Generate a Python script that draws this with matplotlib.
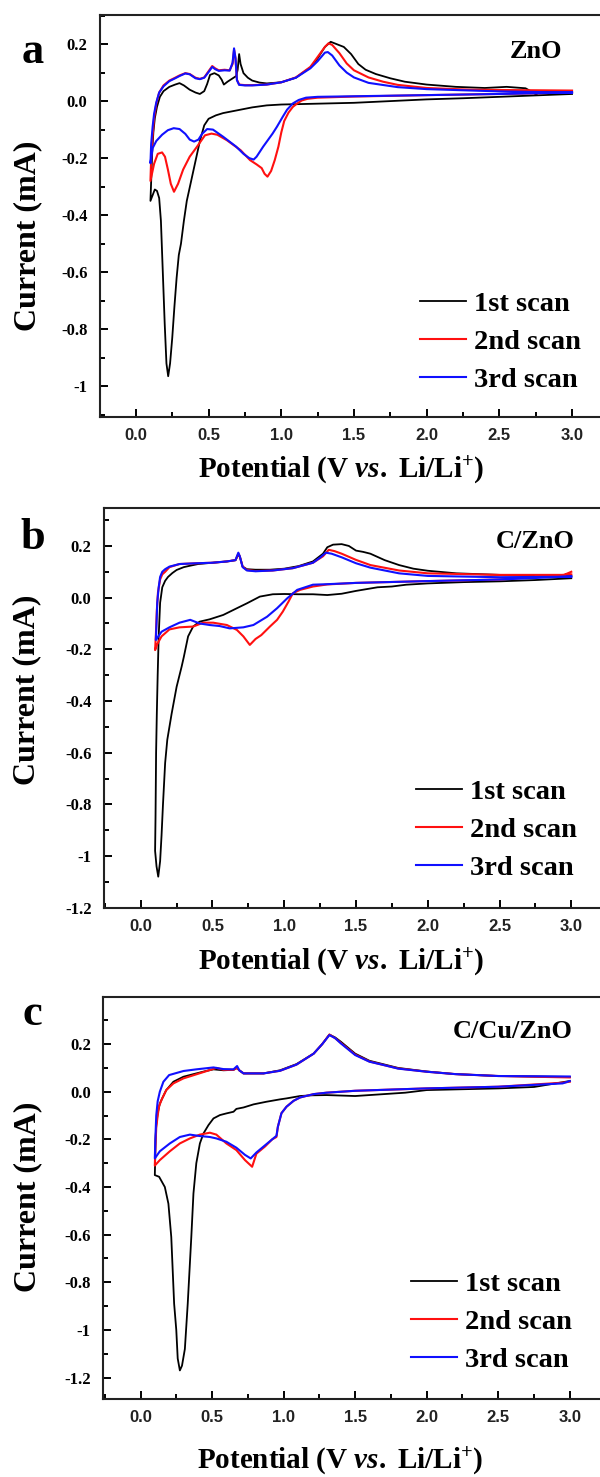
import numpy as np
import matplotlib
matplotlib.use("Agg")
import matplotlib.pyplot as plt
from matplotlib.ticker import MultipleLocator, FixedLocator, FixedFormatter

plt.rcParams['mathtext.fontset'] = 'custom'
plt.rcParams['mathtext.rm'] = 'Liberation Serif:bold'
plt.rcParams['mathtext.it'] = 'Liberation Serif:italic:bold'
plt.rcParams['mathtext.bf'] = 'Liberation Serif:bold'

# ---- data: (potential V, current mA), cathodic sweep then anodic sweep ----
zno_1 = [(3.0, 0.025), (2.75, 0.02), (2.5, 0.015), (2.25, 0.01), (2.0, 0.006), (1.75, 0.0),
         (1.5, -0.006), (1.25, -0.009), (1.0, -0.012), (0.9, -0.015), (0.8, -0.022), (0.7, -0.032),
         (0.6, -0.042), (0.55, -0.05), (0.5, -0.062), (0.47, -0.085), (0.44, -0.14), (0.41, -0.21),
         (0.38, -0.28), (0.35, -0.35), (0.33, -0.42), (0.31, -0.5), (0.295, -0.54), (0.28, -0.62),
         (0.265, -0.72), (0.25, -0.83), (0.235, -0.92), (0.222, -0.965), (0.21, -0.92), (0.198, -0.78),
         (0.185, -0.6), (0.172, -0.42), (0.16, -0.34), (0.145, -0.315), (0.13, -0.31), (0.115, -0.33),
         (0.10, -0.35),
         (0.105, -0.28), (0.112, -0.18), (0.12, -0.11), (0.13, -0.06), (0.145, -0.02), (0.165, 0.015),
         (0.19, 0.035), (0.23, 0.05), (0.27, 0.058), (0.30, 0.063), (0.33, 0.055), (0.37, 0.04),
         (0.41, 0.03), (0.44, 0.025), (0.47, 0.035), (0.49, 0.06), (0.51, 0.092), (0.54, 0.098),
         (0.57, 0.09), (0.59, 0.075), (0.605, 0.058), (0.63, 0.068), (0.66, 0.078), (0.69, 0.088),
         (0.70, 0.11), (0.71, 0.165), (0.72, 0.13), (0.74, 0.098), (0.77, 0.082), (0.8, 0.072),
         (0.85, 0.065), (0.9, 0.062), (1.0, 0.066), (1.1, 0.082), (1.2, 0.118), (1.25, 0.15),
         (1.3, 0.19), (1.34, 0.208), (1.38, 0.2), (1.43, 0.19), (1.48, 0.165), (1.53, 0.13),
         (1.58, 0.11), (1.65, 0.095), (1.75, 0.08), (1.85, 0.068), (2.0, 0.058), (2.2, 0.05),
         (2.4, 0.046), (2.55, 0.05), (2.68, 0.045), (2.75, 0.025), (2.8, 0.035), (3.0, 0.035)]
zno_2 = [(3.0, 0.03), (2.5, 0.025), (2.0, 0.021), (1.5, 0.016), (1.25, 0.012), (1.18, 0.008),
         (1.14, 0.002), (1.11, -0.008), (1.08, -0.02), (1.05, -0.04), (1.02, -0.07), (1.0, -0.11),
         (0.98, -0.16), (0.955, -0.207), (0.93, -0.245), (0.905, -0.265), (0.885, -0.255),
         (0.865, -0.235), (0.83, -0.222), (0.785, -0.207), (0.72, -0.172), (0.625, -0.137),
         (0.56, -0.118), (0.52, -0.114), (0.475, -0.12), (0.42, -0.16), (0.37, -0.195), (0.325, -0.24),
         (0.29, -0.29), (0.262, -0.318), (0.24, -0.29), (0.22, -0.24), (0.20, -0.195), (0.18, -0.18),
         (0.15, -0.185), (0.125, -0.22), (0.10, -0.28),
         (0.105, -0.2), (0.115, -0.12), (0.125, -0.06), (0.14, -0.01), (0.16, 0.03), (0.19, 0.055),
         (0.23, 0.072), (0.27, 0.082), (0.30, 0.09), (0.34, 0.098), (0.37, 0.095), (0.41, 0.082),
         (0.44, 0.078), (0.47, 0.083), (0.50, 0.105), (0.525, 0.123), (0.545, 0.115), (0.57, 0.108),
         (0.61, 0.11), (0.645, 0.108), (0.665, 0.13), (0.675, 0.18), (0.685, 0.15), (0.695, 0.075),
         (0.71, 0.058), (0.75, 0.056), (0.8, 0.056), (0.9, 0.058), (1.0, 0.066), (1.1, 0.083),
         (1.2, 0.12), (1.25, 0.155), (1.3, 0.19), (1.325, 0.203), (1.35, 0.197), (1.4, 0.168),
         (1.45, 0.132), (1.5, 0.108), (1.6, 0.083), (1.7, 0.068), (1.8, 0.057), (2.0, 0.046),
         (2.3, 0.04), (2.5, 0.039), (3.0, 0.037)]
zno_3 = [(3.0, 0.03), (2.5, 0.025), (2.0, 0.021), (1.5, 0.017), (1.25, 0.015), (1.17, 0.012),
         (1.12, 0.004), (1.08, -0.008), (1.04, -0.03), (1.01, -0.055), (0.97, -0.09), (0.94, -0.114),
         (0.875, -0.16), (0.83, -0.195), (0.81, -0.205), (0.78, -0.2), (0.74, -0.185), (0.69, -0.16),
         (0.6, -0.125), (0.53, -0.1), (0.49, -0.098), (0.455, -0.115), (0.43, -0.135), (0.40, -0.142),
         (0.37, -0.135), (0.34, -0.115), (0.30, -0.098), (0.26, -0.095), (0.22, -0.102), (0.18, -0.118),
         (0.14, -0.14), (0.115, -0.165), (0.10, -0.218),
         (0.105, -0.15), (0.115, -0.09), (0.125, -0.045), (0.14, -0.005), (0.16, 0.03), (0.19, 0.052),
         (0.23, 0.07), (0.27, 0.08), (0.30, 0.088), (0.34, 0.097), (0.37, 0.094), (0.41, 0.08),
         (0.44, 0.077), (0.47, 0.082), (0.50, 0.102), (0.525, 0.12), (0.545, 0.112), (0.57, 0.106),
         (0.61, 0.108), (0.645, 0.107), (0.665, 0.135), (0.675, 0.185), (0.685, 0.15), (0.695, 0.073),
         (0.71, 0.057), (0.75, 0.055), (0.8, 0.055), (0.9, 0.058), (1.0, 0.066), (1.1, 0.082),
         (1.2, 0.115), (1.25, 0.14), (1.3, 0.17), (1.32, 0.172), (1.35, 0.16), (1.4, 0.125),
         (1.45, 0.1), (1.5, 0.083), (1.6, 0.064), (1.8, 0.049), (2.0, 0.042), (2.5, 0.034), (3.0, 0.03)]

czno_1 = [(3.0, 0.075), (2.75, 0.068), (2.5, 0.063), (2.25, 0.06), (2.0, 0.055), (1.85, 0.05),
          (1.75, 0.043), (1.65, 0.04), (1.5, 0.026), (1.4, 0.015), (1.3, 0.01), (1.2, 0.013),
          (1.1, 0.013), (1.0, 0.014), (0.92, 0.013), (0.83, 0.004), (0.74, -0.022), (0.67, -0.041),
          (0.575, -0.067), (0.48, -0.084), (0.41, -0.093), (0.365, -0.112), (0.33, -0.15), (0.3, -0.23),
          (0.285, -0.267), (0.25, -0.345), (0.215, -0.45), (0.185, -0.55), (0.17, -0.64), (0.155, -0.8),
          (0.145, -0.92), (0.135, -1.02), (0.122, -1.08), (0.11, -1.04), (0.10, -0.98),
          (0.103, -0.85), (0.107, -0.6), (0.112, -0.45), (0.118, -0.3), (0.125, -0.15), (0.135, -0.02),
          (0.15, 0.04), (0.17, 0.065), (0.19, 0.08), (0.22, 0.095), (0.25, 0.107), (0.3, 0.118),
          (0.34, 0.123), (0.4, 0.13), (0.5, 0.135), (0.6, 0.14), (0.66, 0.145), (0.68, 0.165),
          (0.69, 0.16), (0.71, 0.12), (0.74, 0.11), (0.8, 0.108), (0.9, 0.108), (1.0, 0.112),
          (1.1, 0.122), (1.2, 0.14), (1.27, 0.17), (1.3, 0.195), (1.34, 0.205), (1.4, 0.207),
          (1.45, 0.2), (1.5, 0.182), (1.55, 0.177), (1.6, 0.17), (1.7, 0.145), (1.8, 0.126),
          (1.9, 0.112), (2.0, 0.104), (2.2, 0.094), (2.5, 0.088), (3.0, 0.085)]
czno_2 = [(3.0, 0.09), (2.5, 0.07), (2.0, 0.064), (1.5, 0.057), (1.3, 0.051), (1.2, 0.043),
          (1.11, 0.03), (1.06, 0.017), (1.03, -0.015), (0.99, -0.054), (0.95, -0.086), (0.9, -0.112),
          (0.84, -0.145), (0.8, -0.16), (0.76, -0.183), (0.715, -0.15), (0.67, -0.125), (0.6, -0.106),
          (0.505, -0.097), (0.435, -0.097), (0.365, -0.112), (0.27, -0.115), (0.2, -0.123),
          (0.145, -0.15), (0.115, -0.18), (0.10, -0.203),
          (0.105, -0.15), (0.112, -0.05), (0.12, 0.02), (0.135, 0.07), (0.15, 0.09), (0.17, 0.1),
          (0.2, 0.118), (0.27, 0.13), (0.39, 0.133), (0.5, 0.135), (0.6, 0.14), (0.66, 0.145),
          (0.68, 0.17), (0.69, 0.16), (0.71, 0.12), (0.74, 0.107), (0.8, 0.103), (0.92, 0.105),
          (1.06, 0.114), (1.2, 0.135), (1.27, 0.16), (1.31, 0.185), (1.35, 0.18), (1.4, 0.17),
          (1.5, 0.146), (1.6, 0.126), (1.8, 0.105), (2.0, 0.094), (2.5, 0.088), (2.95, 0.088), (3.0, 0.1)]
czno_3 = [(3.0, 0.082), (2.5, 0.07), (2.0, 0.064), (1.5, 0.057), (1.3, 0.052), (1.2, 0.05),
          (1.09, 0.03), (1.02, -0.003), (0.95, -0.041), (0.88, -0.074), (0.785, -0.106),
          (0.715, -0.115), (0.62, -0.119), (0.55, -0.11), (0.48, -0.106), (0.41, -0.1), (0.345, -0.086),
          (0.27, -0.097), (0.2, -0.115), (0.145, -0.132), (0.105, -0.164),
          (0.11, -0.1), (0.115, -0.02), (0.125, 0.04), (0.135, 0.08), (0.15, 0.1), (0.17, 0.11),
          (0.2, 0.12), (0.27, 0.13), (0.39, 0.133), (0.5, 0.135), (0.6, 0.14), (0.66, 0.145),
          (0.68, 0.174), (0.69, 0.16), (0.71, 0.118), (0.74, 0.105), (0.8, 0.102), (0.92, 0.105),
          (1.06, 0.114), (1.2, 0.135), (1.25, 0.155), (1.29, 0.174), (1.33, 0.17), (1.4, 0.156),
          (1.5, 0.133), (1.6, 0.116), (1.8, 0.094), (2.0, 0.084), (2.5, 0.079), (3.0, 0.081)]

ccuzno_1 = [(3.0, 0.045), (2.75, 0.02), (2.5, 0.014), (2.0, 0.007), (1.85, -0.004), (1.5, -0.018),
            (1.3, -0.014), (1.2, -0.015), (1.115, -0.018), (1.02, -0.028), (0.975, -0.032),
            (0.88, -0.042), (0.79, -0.053), (0.72, -0.066), (0.67, -0.072), (0.65, -0.084),
            (0.6, -0.091), (0.555, -0.098), (0.51, -0.112), (0.475, -0.14), (0.44, -0.175),
            (0.415, -0.217), (0.39, -0.3), (0.37, -0.427), (0.355, -0.61), (0.33, -0.89),
            (0.31, -1.08), (0.29, -1.15), (0.275, -1.17), (0.26, -1.12), (0.25, -1.0), (0.235, -0.89),
            (0.215, -0.61), (0.195, -0.47), (0.17, -0.40), (0.13, -0.357), (0.10, -0.35),
            (0.102, -0.30), (0.105, -0.2), (0.11, -0.14), (0.12, -0.09), (0.135, -0.05), (0.15, -0.03),
            (0.18, 0.007), (0.23, 0.042), (0.3, 0.063), (0.39, 0.077), (0.45, 0.086), (0.51, 0.094),
            (0.58, 0.09), (0.65, 0.092), (0.675, 0.1), (0.69, 0.09), (0.72, 0.077), (0.86, 0.077),
            (0.975, 0.09), (1.09, 0.116), (1.21, 0.16), (1.27, 0.2), (1.32, 0.24), (1.36, 0.228),
            (1.4, 0.21), (1.5, 0.16), (1.6, 0.13), (1.7, 0.115), (1.8, 0.1), (2.0, 0.085),
            (2.2, 0.074), (2.5, 0.066), (3.0, 0.062)]
ccuzno_2 = [(3.0, 0.042), (2.95, 0.038), (2.5, 0.021), (2.0, 0.014), (1.5, 0.004), (1.3, -0.004),
            (1.21, -0.01), (1.115, -0.024), (1.07, -0.038), (1.02, -0.063), (0.985, -0.09),
            (0.96, -0.147), (0.95, -0.19), (0.92, -0.2), (0.87, -0.23), (0.81, -0.26), (0.78, -0.315),
            (0.73, -0.287), (0.67, -0.245), (0.6, -0.217), (0.53, -0.18), (0.485, -0.172),
            (0.415, -0.18), (0.345, -0.196), (0.275, -0.217), (0.205, -0.25), (0.135, -0.287),
            (0.10, -0.31),
            (0.105, -0.22), (0.11, -0.15), (0.12, -0.1), (0.13, -0.06), (0.15, -0.03), (0.18, 0.007),
            (0.23, 0.035), (0.3, 0.056), (0.39, 0.073), (0.5, 0.094), (0.53, 0.1), (0.58, 0.092),
            (0.65, 0.092), (0.675, 0.1), (0.69, 0.09), (0.72, 0.077), (0.86, 0.077), (0.975, 0.088),
            (1.09, 0.114), (1.21, 0.16), (1.27, 0.2), (1.32, 0.24), (1.36, 0.225), (1.4, 0.205),
            (1.5, 0.156), (1.6, 0.127), (1.7, 0.112), (1.8, 0.098), (2.0, 0.084), (2.2, 0.074),
            (2.5, 0.066), (3.0, 0.06)]
ccuzno_3 = [(3.0, 0.045), (2.95, 0.035), (2.5, 0.021), (2.0, 0.014), (1.5, 0.004), (1.3, -0.004),
            (1.21, -0.01), (1.115, -0.024), (1.07, -0.038), (1.02, -0.063), (0.985, -0.09),
            (0.96, -0.147), (0.95, -0.185), (0.92, -0.2), (0.87, -0.225), (0.81, -0.255), (0.77, -0.28),
            (0.73, -0.265), (0.67, -0.235), (0.6, -0.21), (0.53, -0.196), (0.485, -0.19),
            (0.415, -0.186), (0.345, -0.18), (0.275, -0.19), (0.205, -0.217), (0.135, -0.25),
            (0.10, -0.28),
            (0.105, -0.18), (0.11, -0.1), (0.12, -0.04), (0.135, 0.0), (0.16, 0.042), (0.2, 0.07),
            (0.3, 0.087), (0.39, 0.094), (0.51, 0.102), (0.58, 0.095), (0.65, 0.094), (0.675, 0.108),
            (0.69, 0.09), (0.72, 0.077), (0.86, 0.077), (0.975, 0.088), (1.09, 0.114), (1.21, 0.16),
            (1.27, 0.2), (1.32, 0.238), (1.36, 0.225), (1.4, 0.203), (1.5, 0.154), (1.6, 0.126),
            (1.7, 0.112), (1.8, 0.097), (2.0, 0.084), (2.2, 0.074), (2.5, 0.066), (3.0, 0.064)]

scan_labels = ["1st scan", "2nd scan", "3rd scan"]
scan_colors = ["black", "#ff1010", "#1010ff"]
panel_letters = ["a", "b", "c"]
sample_names = ["ZnO", "C/ZnO", "C/Cu/ZnO"]

x_ticks = [0.0, 0.5, 1.0, 1.5, 2.0, 2.5, 3.0]
x_ticklabels = ["0.0", "0.5", "1.0", "1.5", "2.0", "2.5", "3.0"]
y_ticks_a = [0.2, 0.0, -0.2, -0.4, -0.6, -0.8, -1.0]
y_ticklabels_a = ["0.2", "0.0", "-0.2", "-0.4", "-0.6", "-0.8", "-1"]
y_ticks_b = [0.2, 0.0, -0.2, -0.4, -0.6, -0.8, -1.0, -1.2]
y_ticklabels_b = ["0.2", "0.0", "-0.2", "-0.4", "-0.6", "-0.8", "-1", "-1.2"]
y_ticks_c = [0.4, 0.2, 0.0, -0.2, -0.4, -0.6, -0.8, -1.0, -1.2]
y_ticklabels_c = ["0.4", "0.2", "0.0", "-0.2", "-0.4", "-0.6", "-0.8", "-1", "-1.2"]

W, H = 600, 1477
fig = plt.figure(figsize=(W / 100, H / 100), dpi=100)

def px(x0, y0, x1, y1):
    # pixel box (left, top, right, bottom) -> figure fraction rect
    return [x0 / W, 1 - y1 / H, (x1 - x0) / W, (y1 - y0) / H]

panels = [
    dict(rect=px(100, 15, 602, 417), xlim=(-0.247, 3.206), ylim=(-1.108, 0.302),
         curves=[zno_1, zno_2, zno_3], yt=y_ticks_a, ytl=y_ticklabels_a,
         letter_xy=(33, 52), name_xy=(536, 52), cur_xy=(28, 236), pot_xy=(341, 470),
         leg_xy=(420, 291)),
    dict(rect=px(104, 507.7, 602, 907.7), xlim=(-0.256, 3.214), ylim=(-1.2, 0.348),
         curves=[czno_1, czno_2, czno_3], yt=y_ticks_b, ytl=y_ticklabels_b,
         letter_xy=(33, 538), name_xy=(535, 542), cur_xy=(27, 690), pot_xy=(341, 962),
         leg_xy=(416, 779)),
    dict(rect=px(103.3, 996.7, 602, 1399), xlim=(-0.26, 3.225), ylim=(-1.29, 0.399),
         curves=[ccuzno_1, ccuzno_2, ccuzno_3], yt=y_ticks_c, ytl=y_ticklabels_c,
         letter_xy=(32, 1014), name_xy=(513, 1032), cur_xy=(28, 1197), pot_xy=(340, 1461),
         leg_xy=(411, 1271)),
]

serif = "Liberation Serif"
for i, p in enumerate(panels):
    ax = fig.add_axes(p["rect"])
    lines = []
    for curve, col, lab in zip(p["curves"], scan_colors, scan_labels):
        v, cur = np.array(curve).T
        lw = 1.3 if col == "black" else 1.5
        ln, = ax.plot(v, cur, color=col, lw=lw, label=lab)
        lines.append(ln)
    ax.set_xlim(*p["xlim"])
    ax.set_ylim(*p["ylim"])
    ax.xaxis.set_major_locator(FixedLocator(x_ticks))
    ax.xaxis.set_major_formatter(FixedFormatter(x_ticklabels))
    ax.xaxis.set_minor_locator(MultipleLocator(0.25))
    ax.yaxis.set_major_locator(FixedLocator(p["yt"]))
    ax.yaxis.set_major_formatter(FixedFormatter(p["ytl"]))
    ax.yaxis.set_minor_locator(MultipleLocator(0.1))
    ax.tick_params(which="both", direction="in", top=False, right=False, width=1.4)
    ax.tick_params(which="major", length=6)
    ax.tick_params(which="minor", length=3.5)
    ax.tick_params(axis="x", pad=8)
    ax.tick_params(axis="y", pad=9)
    for t in ax.get_xticklabels():
        t.set_fontfamily("Liberation Sans")
        t.set_fontweight("bold")
        t.set_fontsize(12)
        t.set_color("#222222")
    for t in ax.get_yticklabels():
        t.set_fontfamily(serif)
        t.set_fontweight("bold")
        t.set_fontsize(12)
    for s in ax.spines.values():
        s.set_linewidth(1.5)
        s.set_color("#222222")

    lx, ly = p["leg_xy"]
    fx, fy = lx / W, 1 - ly / H
    ax.legend(handles=lines, loc="upper left", bbox_to_anchor=(fx, fy),
              bbox_transform=fig.transFigure, frameon=False, borderpad=0,
              borderaxespad=0, handlelength=1.6, handletextpad=0.3, labelspacing=0.42,
              prop=dict(family=serif, weight="bold", size=20.5))

    x, y = p["letter_xy"]
    fig.text(x / W, 1 - y / H, panel_letters[i], family=serif, weight="bold",
             fontsize=32, ha="center", va="center")
    x, y = p["name_xy"]
    fig.text(x / W, 1 - y / H, sample_names[i], family=serif, weight="bold",
             fontsize=19, ha="center", va="center")
    x, y = p["cur_xy"]
    fig.text(x / W, 1 - y / H, "Current (mA)", family=serif, weight="bold",
             fontsize=23, ha="center", va="center", rotation=90)
    x, y = p["pot_xy"]
    fig.text(x / W, 1 - y / H, r"Potential (V $\mathit{vs.}$ Li/Li$^{+}$)", family=serif,
             weight="bold", fontsize=21, ha="center", va="center")

fig.savefig("out.png", dpi=100)
